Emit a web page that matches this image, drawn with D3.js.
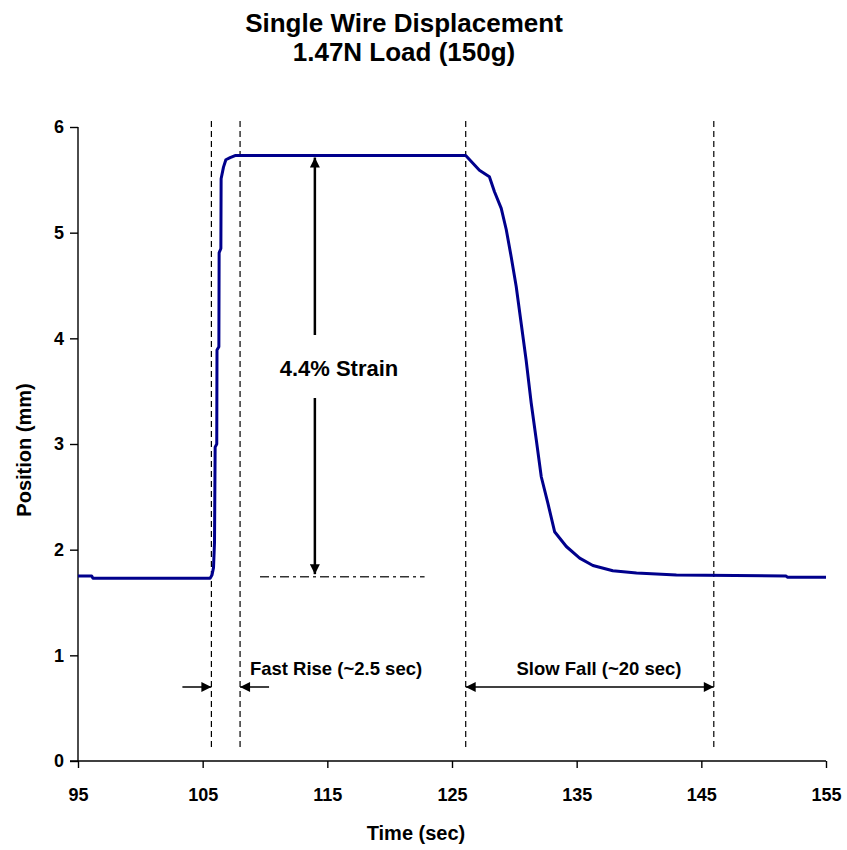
<!DOCTYPE html>
<html>
<head>
<meta charset="utf-8">
<script src="https://cdn.jsdelivr.net/npm/d3@7"></script>
<style>
  html, body { margin: 0; padding: 0; background: #fff; }
  svg { display: block; font-family: "Liberation Sans", Arial, sans-serif; }
</style>
</head>
<body>
<svg id="chart" width="847" height="850"></svg>
<script>
// ---- data ----
const timeSec = [95, 96.1, 96.2, 105.6, 105.75, 105.87, 105.95, 106.0, 106.13, 106.15, 106.3, 106.32, 106.46, 106.48,
  106.67, 106.86, 107.2, 107.6, 126.1, 127.2, 128.0, 128.4, 128.95, 129.35, 129.75, 130.15, 130.55, 130.95,
  131.35, 131.76, 132.16, 132.69, 133.23, 134.17, 135.24, 136.3, 137.9, 139.8, 143, 151.8, 151.9, 155];
const positionMm = [1.75, 1.75, 1.73, 1.73, 1.76, 1.83, 2.07, 2.97, 3.0, 3.89, 3.92, 4.81, 4.85, 5.51,
  5.62, 5.69, 5.71, 5.73, 5.73, 5.59, 5.53, 5.39, 5.23, 5.03, 4.77, 4.49, 4.14, 3.79,
  3.39, 3.04, 2.69, 2.44, 2.17, 2.03, 1.92, 1.85, 1.80, 1.78, 1.76, 1.75, 1.74, 1.74];
const xTicks = [95, 105, 115, 125, 135, 145, 155];
const yTicks = [0, 1, 2, 3, 4, 5, 6];
const markerTimes = [105.7, 108.0, 126.1, 146.0];   // dashed vertical lines
const strainTime = 114.0, strainTop = 5.73, strainBase = 1.74;
const strainLineTimes = [109.6, 122.8];
const titleLines = ["Single Wire Displacement", "1.47N Load (150g)"];

// ---- layout ----
const svg = d3.select("#chart");
const L = 78, R = 826, T = 127, B = 761;
const x = d3.scaleLinear().domain([95, 155]).range([L, R]);
const y = d3.scaleLinear().domain([0, 6]).range([B, T]);

// defs: arrowheads
const defs = svg.append("defs");
defs.append("marker").attr("id", "ah").attr("viewBox", "0 0 10 10")
  .attr("refX", 10).attr("refY", 5).attr("markerWidth", 14).attr("markerHeight", 10)
  .attr("markerUnits", "userSpaceOnUse").attr("orient", "auto")
  .append("path").attr("d", "M0,0 L10,5 L0,10 z").attr("fill", "#000");
defs.append("marker").attr("id", "ah2").attr("viewBox", "0 0 10 10")
  .attr("refX", 0).attr("refY", 5).attr("markerWidth", 14).attr("markerHeight", 10)
  .attr("markerUnits", "userSpaceOnUse").attr("orient", "auto")
  .append("path").attr("d", "M10,0 L0,5 L10,10 z").attr("fill", "#000");

// title
svg.append("g").selectAll("text").data(titleLines).join("text")
  .attr("x", 404).attr("y", (d, i) => 32 + i * 29)
  .attr("text-anchor", "middle").attr("font-size", 26).attr("font-weight", "bold")
  .attr("fill", "#000")
  .text(d => d);

// axes
const xAxis = svg.append("g").attr("transform", `translate(0,${B})`)
  .call(d3.axisBottom(x).tickValues(xTicks).tickSize(7).tickPadding(20).tickFormat(d3.format("d")));
const yAxis = svg.append("g").attr("transform", `translate(${L},0)`)
  .call(d3.axisLeft(y).tickValues(yTicks).tickSize(8).tickPadding(6).tickFormat(d3.format("d")));
[xAxis, yAxis].forEach(g => {
  g.select(".domain").attr("stroke", "#000").attr("stroke-width", 1.4);
  g.selectAll(".tick line").attr("stroke", "#000").attr("stroke-width", 1.4);
  g.selectAll(".tick text").attr("font-size", 18).attr("font-weight", "bold").attr("fill", "#000")
    .attr("font-family", "Liberation Sans, Arial, sans-serif");
});
xAxis.select(".domain").attr("d", `M${L - 8},0H${R}`);
yAxis.select(".domain").attr("d", `M0,${B}V${T}`);

// axis titles
svg.append("text").attr("x", 416).attr("y", 840).attr("text-anchor", "middle")
  .attr("font-size", 20).attr("font-weight", "bold").text("Time (sec)");
svg.append("text").attr("transform", "translate(31,450) rotate(-90)").attr("text-anchor", "middle")
  .attr("font-size", 20).attr("font-weight", "bold").text("Position (mm)");

// dashed vertical markers
svg.append("g").selectAll("line").data(markerTimes).join("line")
  .attr("x1", d => x(d)).attr("x2", d => x(d)).attr("y1", 121).attr("y2", 747)
  .attr("stroke", "#000").attr("stroke-width", 1.2).attr("stroke-dasharray", "6,4");

// data line
svg.append("path").datum(timeSec.map((t, i) => [t, positionMm[i]]))
  .attr("fill", "none").attr("stroke", "#00008C").attr("stroke-width", 3)
  .attr("stroke-linejoin", "round")
  .attr("d", d3.line().x(d => x(d[0])).y(d => y(d[1])));

// strain baseline dash-dot
svg.append("line").attr("x1", x(strainLineTimes[0])).attr("x2", x(strainLineTimes[1]))
  .attr("y1", y(strainBase) - 0.5).attr("y2", y(strainBase) - 0.5)
  .attr("stroke", "#333").attr("stroke-width", 1.5).attr("stroke-dasharray", "9,4,3,4");

// strain arrow
const sx = x(strainTime);
svg.append("line").attr("x1", sx).attr("x2", sx).attr("y1", 335).attr("y2", y(strainTop) + 2)
  .attr("stroke", "#000").attr("stroke-width", 2.5).attr("marker-end", "url(#ah)");
svg.append("line").attr("x1", sx).attr("x2", sx).attr("y1", 398).attr("y2", y(strainBase) - 3)
  .attr("stroke", "#000").attr("stroke-width", 2.5).attr("marker-end", "url(#ah)");
svg.append("text").attr("x", 339).attr("y", 376).attr("text-anchor", "middle")
  .attr("font-size", 22).attr("font-weight", "bold").text("4.4% Strain");

// fast rise arrows
const ay = 687;
svg.append("line").attr("x1", x(105.7) - 29).attr("x2", x(105.7)).attr("y1", ay).attr("y2", ay)
  .attr("stroke", "#000").attr("stroke-width", 1.5).attr("marker-end", "url(#ah)");
svg.append("line").attr("x1", x(108.0) + 29).attr("x2", x(108.0)).attr("y1", ay).attr("y2", ay)
  .attr("stroke", "#000").attr("stroke-width", 1.5).attr("marker-end", "url(#ah)");
svg.append("text").attr("x", 336).attr("y", 675).attr("text-anchor", "middle")
  .attr("font-size", 18.5).attr("font-weight", "bold").text("Fast Rise (~2.5 sec)");

// slow fall arrow
svg.append("line").attr("x1", x(126.1)).attr("x2", x(146.0)).attr("y1", ay).attr("y2", ay)
  .attr("stroke", "#000").attr("stroke-width", 1.5)
  .attr("marker-start", "url(#ah2)").attr("marker-end", "url(#ah)");
svg.append("text").attr("x", 599).attr("y", 675).attr("text-anchor", "middle")
  .attr("font-size", 18.5).attr("font-weight", "bold").text("Slow Fall (~20 sec)");
</script>
</body>
</html>
